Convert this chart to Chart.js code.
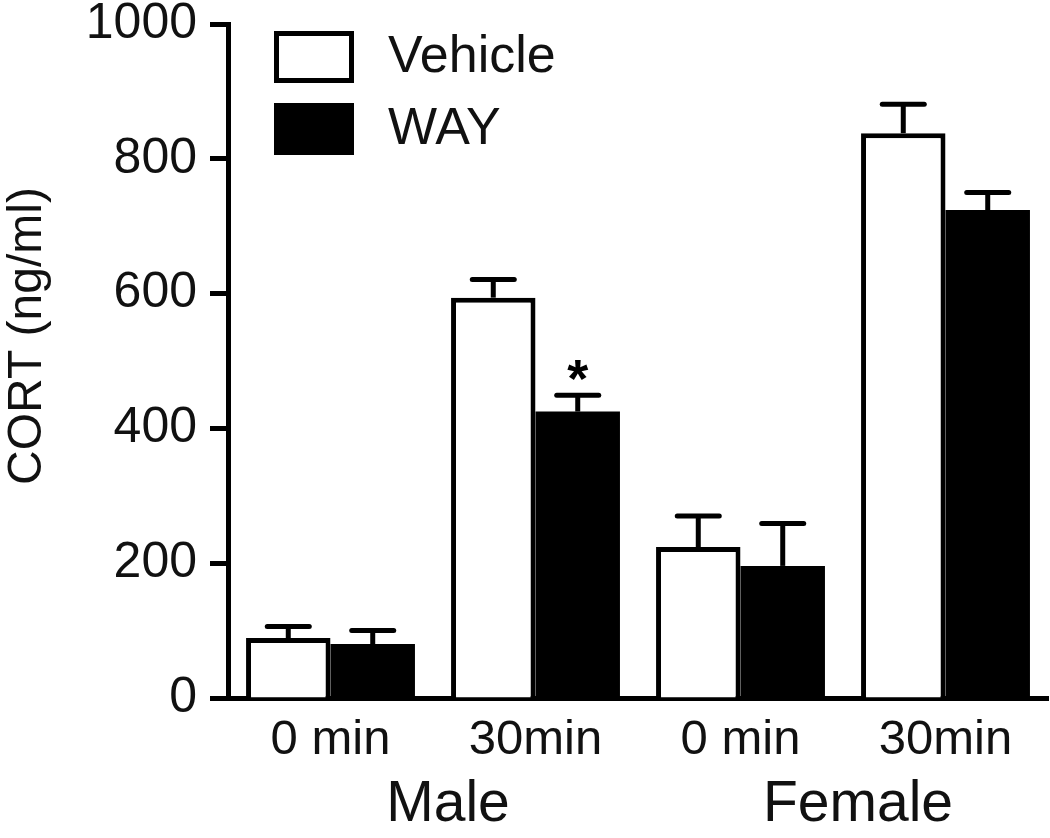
<!DOCTYPE html>
<html>
<head>
<meta charset="utf-8">
<script src="https://cdn.jsdelivr.net/npm/chart.js@4/dist/chart.umd.min.js"></script>
<style>
  body { margin: 0; background: #fff; }
  #wrap { width: 1050px; height: 838px; position: relative; }
</style>
</head>
<body>
<div id="wrap"><canvas id="cortChart"></canvas></div>
<script>
// data
const categories = ['0 min', '30min', '0 min', '30min'];
const groups = ['Male', 'Female'];
const vehicle = [89, 594, 224, 838];
const vehicleSem = [17, 27, 46, 43];
const way = [80, 425, 196, 724];
const waySem = [20, 24, 63, 26];
const yTicks = [0, 200, 400, 600, 800, 1000];
const starred = [{ dataset: 1, index: 1 }];

const FONT = '"Liberation Sans", Arial, Helvetica, sans-serif';

// upward error bars, asterisk, custom legend, axis title and group labels
const extras = {
    id: 'extras',
    afterDatasetsDraw(chart) {
        const ctx = chart.ctx;
        const y = chart.scales.y;
        const x = chart.scales.x;
        const sems = [vehicleSem, waySem];
        ctx.save();
        ctx.strokeStyle = '#000';
        ctx.lineWidth = 5;
        chart.data.datasets.forEach((ds, di) => {
            const meta = chart.getDatasetMeta(di);
            meta.data.forEach((bar, i) => {
                const top = y.getPixelForValue(ds.data[i]);
                const end = y.getPixelForValue(ds.data[i] + sems[di][i]);
                ctx.lineCap = 'butt';
                ctx.beginPath();
                ctx.moveTo(bar.x, top);
                ctx.lineTo(bar.x, end);
                ctx.stroke();
                ctx.lineCap = 'round';
                ctx.beginPath();
                ctx.moveTo(bar.x - 21, end);
                ctx.lineTo(bar.x + 21, end);
                ctx.stroke();
            });
        });

        // significance marks
        ctx.fillStyle = '#000';
        ctx.textAlign = 'center';
        ctx.textBaseline = 'alphabetic';
        ctx.font = 'bold 54px ' + FONT;
        starred.forEach(s => {
            const bar = chart.getDatasetMeta(s.dataset).data[s.index];
            const ds = chart.data.datasets[s.dataset];
            const sem = s.dataset === 0 ? vehicleSem : waySem;
            const end = y.getPixelForValue(ds.data[s.index] + sem[s.index]);
            ctx.fillText('*', bar.x, end + 2);
        });

        // legend
        const area = chart.chartArea;
        const lx = area.left + 46;
        const rows = [
            { label: chart.data.datasets[0].label, fill: '#fff', top: area.top + 7 },
            { label: chart.data.datasets[1].label, fill: '#000', top: area.top + 79 }
        ];
        ctx.font = '52px ' + FONT;
        ctx.textAlign = 'left';
        ctx.textBaseline = 'middle';
        rows.forEach(r => {
            ctx.fillStyle = r.fill;
            ctx.fillRect(lx + 2.5, r.top + 2.5, 75, 47);
            ctx.strokeRect(lx + 2.5, r.top + 2.5, 75, 47);
            ctx.fillStyle = '#111';
            ctx.fillText(r.label, lx + 114, r.top + 27);
        });

        // y axis title
        ctx.save();
        ctx.translate(28, 336);
        ctx.rotate(-Math.PI / 2);
        ctx.textAlign = 'center';
        ctx.textBaseline = 'middle';
        ctx.font = '48px ' + FONT;
        ctx.fillText('CORT (ng/ml)', 0, 0);
        ctx.restore();

        // group labels under the category ticks
        ctx.font = '57px ' + FONT;
        ctx.textAlign = 'center';
        ctx.textBaseline = 'alphabetic';
        groups.forEach((g, gi) => {
            const a = x.getPixelForValue(gi * 2);
            const b = x.getPixelForValue(gi * 2 + 1);
            ctx.fillText(g, (a + b) / 2 + 15, 821);
        });
        ctx.restore();
    }
};

new Chart(document.getElementById('cortChart'), {
    type: 'bar',
    data: {
        labels: categories,
        datasets: [{
            label: 'Vehicle',
            data: vehicle,
            backgroundColor: '#fff',
            borderColor: '#000',
            borderWidth: 5
        }, {
            label: 'WAY',
            data: way,
            backgroundColor: '#000',
            borderColor: '#000',
            borderWidth: 0
        }]
    },
    options: {
        responsive: true,
        maintainAspectRatio: false,
        animation: false,
        layout: { padding: { top: 24, right: 2, left: 0, bottom: 0 } },
        datasets: {
            bar: { categoryPercentage: 0.824, barPercentage: 1 }
        },
        plugins: {
            legend: { display: false },
            tooltip: { enabled: false }
        },
        scales: {
            x: {
                afterFit(s) { s.height = 140; s.paddingLeft = 0; s.paddingRight = 0; },
                grid: { display: false },
                border: { display: true, color: '#000', width: 5 },
                ticks: {
                    color: '#111',
                    font: { family: FONT, size: 49 },
                    padding: 5,
                    maxRotation: 0,
                    autoSkip: false
                }
            },
            y: {
                min: 0,
                max: 1000,
                afterFit(s) { s.width = 228; s.paddingTop = 0; s.paddingBottom = 0; },
                afterBuildTicks(s) { s.ticks = yTicks.map(v => ({ value: v })); },
                grid: {
                    display: true,
                    drawOnChartArea: false,
                    drawTicks: true,
                    tickLength: 18,
                    tickWidth: 5,
                    tickColor: '#000'
                },
                border: { display: true, color: '#000', width: 5 },
                ticks: {
                    color: '#111',
                    font: { family: FONT, size: 50 },
                    padding: 13,
                    callback: v => String(v)
                }
            }
        }
    },
    plugins: [extras]
});
</script>
</body>
</html>
